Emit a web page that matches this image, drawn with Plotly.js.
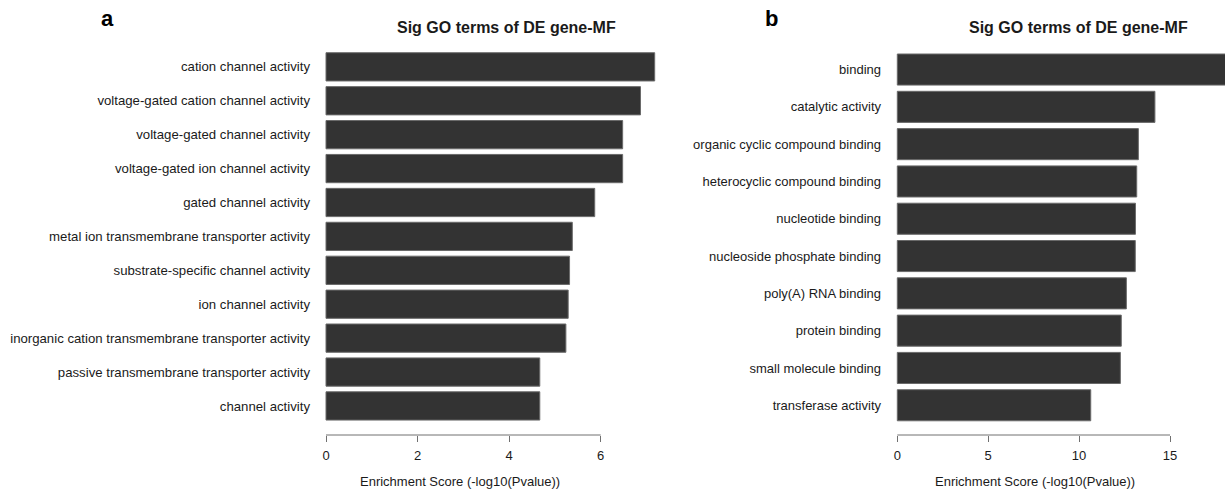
<!DOCTYPE html>
<html>
<head>
<meta charset="utf-8">
<script src="https://cdn.plot.ly/plotly-3.0.1.min.js"></script>
<style>html,body{margin:0;padding:0;background:#fff;}#chart{width:1225px;height:492px;}</style>
</head>
<body>
<div id="chart"></div>
<script>
// ---- data ----
const termsA = [
  "cation channel activity",
  "voltage-gated cation channel activity",
  "voltage-gated channel activity",
  "voltage-gated ion channel activity",
  "gated channel activity",
  "metal ion transmembrane transporter activity",
  "substrate-specific channel activity",
  "ion channel activity",
  "inorganic cation transmembrane transporter activity",
  "passive transmembrane transporter activity",
  "channel activity"
];
const scoresA = [7.18, 6.87, 6.48, 6.48, 5.87, 5.38, 5.32, 5.29, 5.24, 4.67, 4.67];
const ticksA = [0, 2, 4, 6];

const termsB = [
  "binding",
  "catalytic activity",
  "organic cyclic compound binding",
  "heterocyclic compound binding",
  "nucleotide binding",
  "nucleoside phosphate binding",
  "poly(A) RNA binding",
  "protein binding",
  "small molecule binding",
  "transferase activity"
];
const scoresB = [18.6, 14.17, 13.26, 13.17, 13.1, 13.09, 12.6, 12.32, 12.27, 10.64];
const ticksB = [0, 5, 10, 15];

const panelTitle = "Sig GO terms of DE gene-MF";
const axisTitle = "Enrichment Score (-log10(Pvalue))";

// ---- layout helpers (pixel geometry) ----
const W = 1225, H = 492;
const fx = p => p / W;
const fy = p => 1 - p / H;
const FONT = "Arial, 'Liberation Sans', sans-serif";
const txt = "#1a1a1a";
const axisCol = "#707070";

// panel a geometry
const aZero = 326, aUnit = 45.78, aLeft = 312, aRight = 670;
// panel b geometry
const bZero = 897.3, bUnit = 18.18, bLeft = 885, bRight = 1225;
const axisY = 435;

const barStyle = {color: "#333333", line: {color: "#6a6a6a", width: 1}};

const traces = [
  {type: "bar", orientation: "h", x: scoresA, y: termsA, xaxis: "x", yaxis: "y",
   marker: barStyle, hoverinfo: "x+y"},
  {type: "bar", orientation: "h", x: scoresB, y: termsB, xaxis: "x2", yaxis: "y2",
   marker: barStyle, hoverinfo: "x+y"}
];

const xCommon = {
  showgrid: false, zeroline: false, showline: false,
  ticks: "outside", ticklen: 6, tickwidth: 1, tickcolor: axisCol,
  tickfont: {family: FONT, size: 13, color: txt},
  tickmode: "array", fixedrange: true, ticklabelstandoff: 2
};
const yCommon = {
  type: "category", showgrid: false, zeroline: false, showline: false,
  ticks: "", fixedrange: true
};

const layout = {
  width: W, height: H,
  margin: {l: 0, r: 0, t: 0, b: 0},
  paper_bgcolor: "#ffffff", plot_bgcolor: "#ffffff",
  showlegend: false, bargap: 0.1667,
  font: {family: FONT, color: txt},
  xaxis: Object.assign({}, xCommon, {
    domain: [fx(aLeft), fx(aRight)], anchor: "y",
    range: [(aLeft - aZero) / aUnit, (aRight - aZero) / aUnit],
    tickvals: ticksA, ticktext: ticksA.map(String)
  }),
  yaxis: Object.assign({}, yCommon, {
    domain: [fy(axisY), fy(49.9)], anchor: "x",
    range: [termsA.length - 0.5 + (axisY - 422.9) / 33.9, -0.5],
    tickfont: {family: FONT, size: 13.2, color: txt},
    ticklabelstandoff: 1
  }),
  xaxis2: Object.assign({}, xCommon, {
    domain: [fx(bLeft), fx(bRight)], anchor: "y2",
    range: [(bLeft - bZero) / bUnit, (bRight - bZero) / bUnit],
    tickvals: ticksB, ticktext: ticksB.map(String)
  }),
  yaxis2: Object.assign({}, yCommon, {
    domain: [fy(axisY), fy(50.9)], anchor: "x2",
    range: [termsB.length - 0.5 + (axisY - 423.9) / 37.3, -0.5],
    tickfont: {family: FONT, size: 13, color: txt},
    ticklabelstandoff: 3
  }),
  shapes: [
    {type: "line", xref: "x", yref: "paper", x0: ticksA[0], x1: ticksA[ticksA.length - 1],
     y0: fy(axisY), y1: fy(axisY), line: {color: axisCol, width: 1}},
    {type: "line", xref: "x2", yref: "paper", x0: ticksB[0], x1: ticksB[ticksB.length - 1],
     y0: fy(axisY), y1: fy(axisY), line: {color: axisCol, width: 1}}
  ],
  annotations: [
    {text: "<b>a</b>", xref: "paper", yref: "paper", x: fx(107), y: fy(19), showarrow: false,
     xanchor: "center", yanchor: "middle", font: {family: FONT, size: 22, color: "#000"}},
    {text: "<b>b</b>", xref: "paper", yref: "paper", x: fx(771), y: fy(19), showarrow: false,
     xanchor: "center", yanchor: "middle", font: {family: FONT, size: 22, color: "#000"}},
    {text: "<b>" + panelTitle + "</b>", xref: "paper", yref: "paper", x: fx(506), y: fy(28), showarrow: false,
     xanchor: "center", yanchor: "middle", font: {family: FONT, size: 16, color: txt}},
    {text: "<b>" + panelTitle + "</b>", xref: "paper", yref: "paper", x: fx(1078), y: fy(28), showarrow: false,
     xanchor: "center", yanchor: "middle", font: {family: FONT, size: 16, color: txt}},
    {text: axisTitle, xref: "paper", yref: "paper", x: fx(460), y: fy(481), showarrow: false,
     xanchor: "center", yanchor: "middle", font: {family: FONT, size: 13, color: txt}},
    {text: axisTitle, xref: "paper", yref: "paper", x: fx(1035), y: fy(481), showarrow: false,
     xanchor: "center", yanchor: "middle", font: {family: FONT, size: 13, color: txt}}
  ]
};

Plotly.newPlot("chart", traces, layout, {displayModeBar: false, staticPlot: true});
</script>
</body>
</html>
